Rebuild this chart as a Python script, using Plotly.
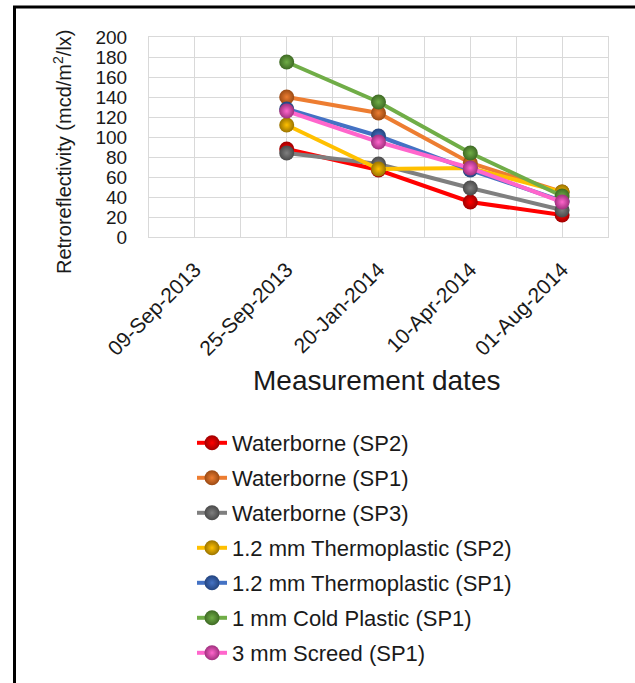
import plotly.graph_objects as go

dates = ["09-Sep-2013", "25-Sep-2013", "20-Jan-2014", "10-Apr-2014", "01-Aug-2014"]

waterborne_sp2 = [None, 88, 67, 35, 22]
waterborne_sp1 = [None, 140, 124, 74, 45]
waterborne_sp3 = [None, 84, 73, 49, 27]
thermo12_sp2 = [None, 112, 68, 69, 45]
thermo12_sp1 = [None, 128, 101, 67, 36]
cold1_sp1 = [None, 175, 135, 84, 41]
screed3_sp1 = [None, 126, 95, 69, 35]

series = [
    ("Waterborne (SP2)", waterborne_sp2, "#FF0000", "#A00000"),
    ("Waterborne (SP1)", waterborne_sp1, "#ED7D31", "#9A4A14"),
    ("Waterborne (SP3)", waterborne_sp3, "#7F7F7F", "#4A4A4A"),
    ("1.2 mm Thermoplastic (SP2)", thermo12_sp2, "#FFC000", "#9A7400"),
    ("1.2 mm Thermoplastic (SP1)", thermo12_sp1, "#4472C4", "#23447F"),
    ("1 mm Cold Plastic (SP1)", cold1_sp1, "#70AD47", "#3E6A24"),
    ("3 mm Screed (SP1)", screed3_sp1, "#FF66CC", "#A0307E"),
]

x_idx = list(range(len(dates)))

fig = go.Figure()
for i, (name, vals, col, dark) in enumerate(series):
    fig.add_trace(go.Scatter(
        x=x_idx, y=vals, name=name, mode="lines+markers",
        legendgroup=f"g{i}",
        line=dict(color=col, width=4),
        marker=dict(size=15, color=dark, line=dict(width=0),
                    gradient=dict(type="radial", color=col)),
        connectgaps=False,
    ))

W, H = 635, 683
L, R, T, B = 149, 27, 37, 446
pw = W - L - R
ph = H - T - B

def px_x(x):
    return (x - L) / pw

def px_y(y):
    return (H - B - y) / ph

grid = "#D9D9D9"
txt = "#1A1A1A"
fig.update_layout(
    width=W, height=H,
    margin=dict(l=L, r=R, t=T, b=B, autoexpand=False),
    paper_bgcolor="white", plot_bgcolor="white",
    font=dict(family="Liberation Sans, Arial, sans-serif", color=txt),
    showlegend=True,
    legend=dict(
        x=px_x(192), y=px_y(422), xanchor="left", yanchor="top",
        font=dict(size=22, color=txt),
        tracegroupgap=3.4,
        bgcolor="rgba(0,0,0,0)",
    ),
    xaxis=dict(
        range=[-0.5, 4.5], automargin=False,
        tickmode="array", tickvals=x_idx, ticktext=dates,
        tickangle=-45, tickfont=dict(size=21, color=txt),
        showgrid=True, gridcolor=grid, gridwidth=1,
        minor=dict(tickmode="array", tickvals=[v - 0.5 for v in x_idx] + [4.5],
                   showgrid=True, gridcolor=grid, gridwidth=1, ticks=""),
        ticks="", ticklabelstandoff=11,
        showline=True, linecolor=grid, linewidth=1, mirror=True,
        zeroline=False, fixedrange=True,
    ),
    yaxis=dict(
        range=[0, 200], dtick=20, tick0=0, automargin=False,
        tickfont=dict(size=19, color=txt),
        showgrid=True, gridcolor=grid, gridwidth=1,
        ticks="", ticklabelstandoff=17,
        showline=True, linecolor=grid, linewidth=1, mirror=True,
        zeroline=False, fixedrange=True,
    ),
    annotations=[
        dict(text="Retroreflectivity (mcd/m<sup>2</sup>/lx)", xref="paper", yref="paper",
             x=px_x(62), y=px_y(152), textangle=-90, showarrow=False,
             font=dict(size=20, color=txt), xanchor="center", yanchor="middle"),
        dict(text="Measurement dates", xref="paper", yref="paper",
             x=px_x(376), y=px_y(380), showarrow=False,
             font=dict(size=28, color=txt), xanchor="center", yanchor="middle"),
    ],
    shapes=[
        dict(type="rect", xref="paper", yref="paper",
             x0=px_x(14.5), y0=px_y(700), x1=px_x(650), y1=px_y(7),
             line=dict(color="black", width=3), fillcolor="rgba(0,0,0,0)", layer="above"),
    ],
)

fig.write_html("out.html", config={"displayModeBar": False},
               post_script="document.body.style.margin='0';document.body.style.overflow='hidden';")
